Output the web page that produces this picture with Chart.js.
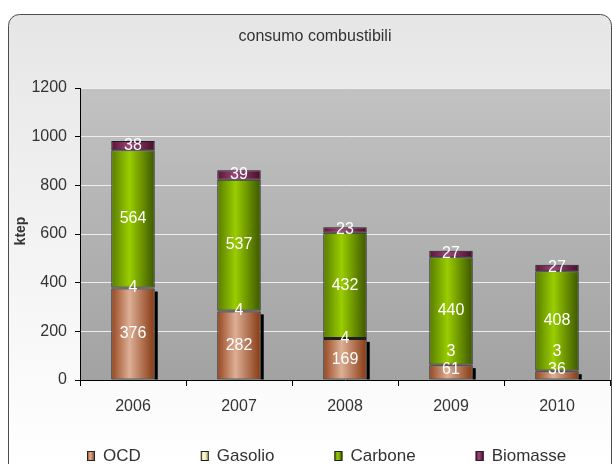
<!DOCTYPE html>
<html>
<head>
<meta charset="utf-8">
<script src="https://cdn.jsdelivr.net/npm/chart.js@4"></script>
<style>
  body { margin: 0; background: #fff; }
  canvas { display: block; }
</style>
</head>
<body>
<canvas id="combustibili" width="612" height="464"></canvas>
<script>
const anni = ['2006', '2007', '2008', '2009', '2010'];
const ocd = [376, 282, 169, 61, 36];
const gasolio = [4, 4, 4, 3, 3];
const carbone = [564, 537, 432, 440, 408];
const biomasse = [38, 39, 23, 27, 27];
const yTicks = [0, 200, 400, 600, 800, 1000, 1200];

const FONT = '"Liberation Sans", Arial, sans-serif';

// effetto cilindro: bordo scuro, centro chiaro, lato destro scuro
const sfumature = {
    OCD: ['#97461e', '#dcaf96', '#873810'],
    Gasolio: ['#c9c992', '#ffffd6', '#aeae70'],
    Carbone: ['#587c00', '#9acd00', '#3b5600'],
    Biomasse: ['#5c1237', '#9a4677', '#4a0b2b'],
};

function gradiente(ctx, nome, x0, x1) {
    const c = sfumature[nome];
    const g = ctx.createLinearGradient(x0, 0, x1, 0);
    g.addColorStop(0, c[0]);
    g.addColorStop(0.42, c[1]);
    g.addColorStop(1, c[2]);
    return g;
}

function coloreBarra(nome) {
    return function (context) {
        const chart = context.chart;
        if (!chart.chartArea || context.type !== 'data') {
            return sfumature[nome][1];
        }
        const xScale = chart.scales.x;
        const centro = xScale.getPixelForValue(context.dataIndex);
        const mezza = xScale.width / anni.length * 0.41 / 2;
        return gradiente(chart.ctx, nome, centro - mezza, centro + mezza);
    };
}

// sfondo del riquadro e dell'area del grafico
const sfondo = {
    id: 'sfondo',
    beforeDraw(chart) {
        const { ctx, chartArea: a } = chart;
        ctx.save();
        ctx.fillStyle = '#fff';
        ctx.fillRect(0, 0, chart.width, chart.height);

        const g = ctx.createLinearGradient(0, 14, 0, 464);
        g.addColorStop(0, '#e6e6e6');
        g.addColorStop(1, '#ffffff');
        ctx.beginPath();
        ctx.roundRect(8.5, 14.5, 603, 480, 11);
        ctx.fillStyle = g;
        ctx.fill();
        ctx.strokeStyle = '#4d4d4d';
        ctx.lineWidth = 1;
        ctx.stroke();

        const p = ctx.createLinearGradient(0, a.top, 0, a.bottom);
        p.addColorStop(0, '#c2c2c2');
        p.addColorStop(1, '#a2a2a2');
        ctx.fillStyle = p;
        ctx.fillRect(a.left, a.top, a.right - a.left, a.bottom - a.top);
        ctx.restore();
    }
};

// ombra nera a destra delle barre OCD
const ombra = {
    id: 'ombra',
    beforeDatasetsDraw(chart) {
        const ctx = chart.ctx;
        ctx.save();
        ctx.fillStyle = '#000';
        chart.getDatasetMeta(0).data.forEach(bar => {
            const destra = bar.x + bar.width / 2;
            ctx.fillRect(destra, bar.y + 3, 3, bar.base - bar.y - 3);
        });
        ctx.restore();
    }
};

// valori dentro le barre, spostati in su quando si sovrappongono
const etichette = {
    id: 'etichette',
    afterDatasetsDraw(chart) {
        const ctx = chart.ctx;
        ctx.save();
        ctx.font = '16px ' + FONT;
        ctx.fillStyle = '#fff';
        ctx.textAlign = 'center';
        ctx.textBaseline = 'middle';
        anni.forEach((anno, i) => {
            let limite = chart.chartArea.bottom - 10;
            chart.data.datasets.forEach((ds, d) => {
                const bar = chart.getDatasetMeta(d).data[i];
                const y = Math.min((bar.y + bar.base) / 2, limite);
                ctx.fillText(String(ds.data[i]), bar.x, y);
                limite = y - 18;
            });
        });
        ctx.restore();
    }
};

// titolo, etichetta asse y e legenda
const testi = {
    id: 'testi',
    afterDraw(chart) {
        const ctx = chart.ctx;
        ctx.save();
        ctx.fillStyle = '#333';
        ctx.textBaseline = 'middle';
        ctx.textAlign = 'center';
        ctx.font = '16px ' + FONT;
        ctx.fillText('consumo combustibili', 315, 37);

        ctx.save();
        ctx.translate(21.5, 231);
        ctx.rotate(-Math.PI / 2);
        ctx.font = 'bold 14px ' + FONT;
        ctx.fillText('ktep', 0, 0);
        ctx.restore();

        ctx.textAlign = 'left';
        ctx.font = '17px ' + FONT;
        let x = 87;
        const y = 456;
        chart.data.datasets.forEach(ds => {
            ctx.fillStyle = gradiente(ctx, ds.label, x, x + 8);
            ctx.fillRect(x, y - 5, 8, 10);
            ctx.strokeStyle = '#222';
            ctx.lineWidth = 1;
            ctx.strokeRect(x + 0.5, y - 4.5, 7, 9);
            ctx.fillStyle = '#333';
            ctx.fillText(ds.label, x + 16, y);
            x += 16 + ctx.measureText(ds.label).width + 60;
        });
        ctx.restore();
    }
};

function serie(nome, valori) {
    return {
        label: nome,
        data: valori,
        backgroundColor: coloreBarra(nome),
        borderColor: '#1e1e1e',
        borderWidth: 1,
        borderSkipped: false,
        categoryPercentage: 1,
        barPercentage: 0.41,
    };
}

new Chart(document.getElementById('combustibili'), {
    type: 'bar',
    data: {
        labels: anni,
        datasets: [
            serie('OCD', ocd),
            serie('Gasolio', gasolio),
            serie('Carbone', carbone),
            serie('Biomasse', biomasse),
        ],
    },
    options: {
        responsive: false,
        animation: false,
        layout: { padding: { top: 88, right: 2, left: 0, bottom: 0 } },
        plugins: {
            legend: { display: false },
            title: { display: false },
            tooltip: { enabled: false },
        },
        scales: {
            x: {
                stacked: true,
                afterFit(scale) { scale.height = 84; },
                grid: { drawOnChartArea: false, offset: true, tickLength: 6, tickColor: '#000' },
                border: { color: '#000', width: 1 },
                ticks: { color: '#333', padding: 11, font: { size: 16, family: FONT } },
            },
            y: {
                stacked: true,
                min: 0,
                max: 1200,
                afterFit(scale) { scale.width = 80; },
                afterBuildTicks(scale) { scale.ticks = yTicks.map(v => ({ value: v })); },
                grid: { color: '#eeeeee', tickColor: '#000', tickLength: 5 },
                border: { color: '#000', width: 1 },
                ticks: {
                    color: '#333',
                    padding: 8,
                    font: { size: 16, family: FONT },
                    callback: v => String(v),
                },
            },
        },
    },
    plugins: [sfondo, ombra, etichette, testi],
});
</script>
</body>
</html>
